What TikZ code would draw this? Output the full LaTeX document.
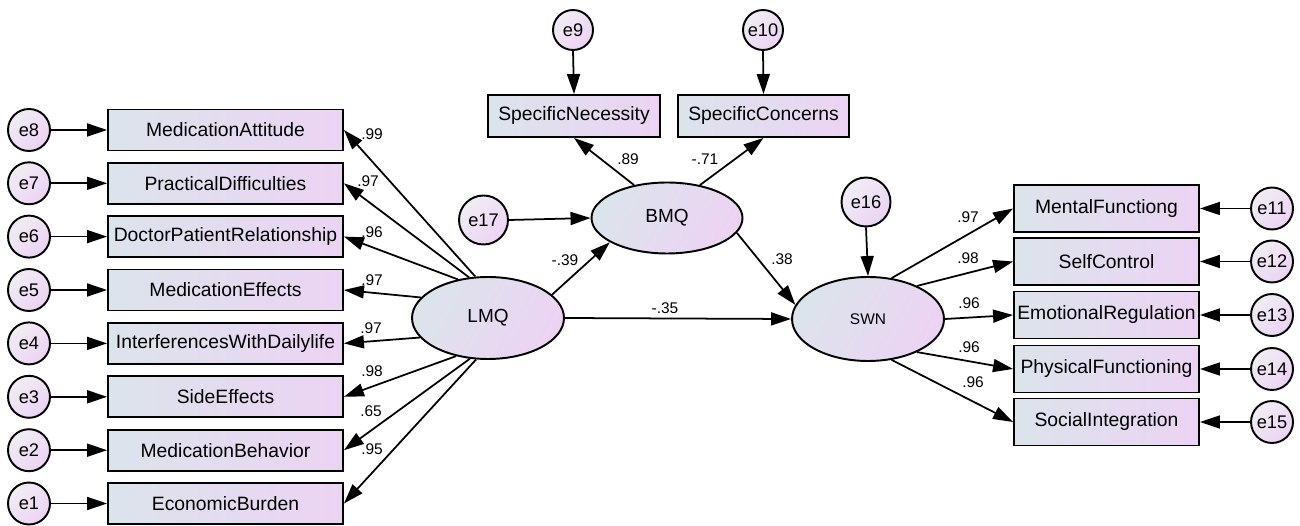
\documentclass[tikz,border=0pt]{standalone}
\usepackage{fontspec}
\setmainfont{Liberation Sans}
\usepackage{tikz}
\usetikzlibrary{arrows.meta,shapes.geometric}
\definecolor{boxgrey}{HTML}{DCE4EB}
\definecolor{boxlilac}{HTML}{ECD3F4}
\definecolor{errlight}{HTML}{F1EDF4}

\begin{document}
\begin{tikzpicture}[
      x=0.02cm,y=-0.02cm,
      box/.style={draw,line width=1.1pt,left color=boxgrey,right color=boxlilac,inner sep=1pt,font=\fontsize{11}{12}\selectfont},
      lbox/.style={box,minimum width=4.7cm,minimum height=0.82cm},
      rbox/.style={box,minimum width=3.7cm,minimum height=0.94cm},
      tbox/.style={box,minimum width=3.43cm,minimum height=0.84cm},
      lat/.style={ellipse,draw,line width=1.1pt,left color=boxgrey,right color=boxlilac,shading angle=60,inner sep=0pt,font=\fontsize{10.8}{12}\selectfont},
      err/.style={circle,draw,line width=1.1pt,left color=errlight,right color=boxlilac,shading angle=45,inner sep=0pt,minimum size=0.84cm,font=\fontsize{10.4}{12}\selectfont},
      arr/.style={-{Triangle[length=4mm,width=2.6mm]},line width=1pt},
      coef/.style={inner sep=0pt,font=\fontsize{8.8}{10}\selectfont}
    ]
    \useasboundingbox (0,0) rectangle (1300,526);
    % latent variables
    \node[lat,minimum width=3.04cm,minimum height=1.64cm] (lmq) at (488,318) {LMQ};
    \node[lat,minimum width=3.02cm,minimum height=1.42cm] (bmq) at (667,218) {BMQ};
    \node[lat,minimum width=3.04cm,minimum height=1.68cm,font=\fontsize{8.8}{10}\selectfont] (swn) at (868,319) {SWN};
    % left indicators
    \node[lbox] (attitude) at (225.5,130) {MedicationAttitude};
    \node[lbox] (practical) at (225.5,183.3) {PracticalDifficulties};
    \node[lbox] (doctor) at (225.5,236.6) {DoctorPatientRelationship};
    \node[lbox] (effects) at (225.5,290) {MedicationEffects};
    \node[lbox] (daily) at (225.5,343.4) {InterferencesWithDailylife};
    \node[lbox] (side) at (225.5,396.8) {SideEffects};
    \node[lbox] (behavior) at (225.5,450.2) {MedicationBehavior};
    \node[lbox] (economic) at (225.5,503.5) {EconomicBurden};
    \node[err] (e8) at (29,130) {e8};
    \node[err] (e7) at (29,183.3) {e7};
    \node[err] (e6) at (29,236.6) {e6};
    \node[err] (e5) at (29,290) {e5};
    \node[err] (e4) at (29,343.4) {e4};
    \node[err] (e3) at (29,396.8) {e3};
    \node[err] (e2) at (29,450.2) {e2};
    \node[err] (e1) at (29,503.5) {e1};
    % top indicators
    \node[tbox] (necessity) at (574,116) {SpecificNecessity};
    \node[tbox] (concerns) at (763.5,116) {SpecificConcerns};
    \node[err,minimum size=0.8cm] (e9) at (573,30) {e9};
    \node[err,minimum size=0.8cm] (e10) at (763,30) {e10};
    \node[err,minimum size=0.98cm] (e17) at (483.5,220) {e17};
    \node[err,minimum size=0.98cm] (e16) at (866,202) {e16};
    % right indicators
    \node[rbox] (mental) at (1106.5,208.5) {MentalFunctiong};
    \node[rbox] (selfctl) at (1106.5,261.5) {SelfControl};
    \node[rbox] (emotion) at (1106.5,315) {EmotionalRegulation};
    \node[rbox] (physical) at (1106.5,369) {PhysicalFunctioning};
    \node[rbox] (social) at (1106.5,422) {SocialIntegration};
    \node[err] (e11) at (1272,208.5) {e11};
    \node[err] (e12) at (1272,261.5) {e12};
    \node[err] (e13) at (1272,315) {e13};
    \node[err] (e14) at (1272,369) {e14};
    \node[err] (e15) at (1272,422) {e15};
    % error arrows
    \draw[arr] (e8.east)--(attitude.west);
    \draw[arr] (e7.east)--(practical.west);
    \draw[arr] (e6.east)--(doctor.west);
    \draw[arr] (e5.east)--(effects.west);
    \draw[arr] (e4.east)--(daily.west);
    \draw[arr] (e3.east)--(side.west);
    \draw[arr] (e2.east)--(behavior.west);
    \draw[arr] (e1.east)--(economic.west);
    \draw[arr] (e9.south)--(necessity.north);
    \draw[arr] (e10.south)--(concerns.north);
    \draw[arr] (e17.east)--(bmq.west);
    \draw[arr] (e16.south)--(swn.north);
    \draw[arr] (e11.west)--(mental.east);
    \draw[arr] (e12.west)--(selfctl.east);
    \draw[arr] (e13.west)--(emotion.east);
    \draw[arr] (e14.west)--(physical.east);
    \draw[arr] (e15.west)--(social.east);
    % loadings
    \draw[arr] (lmq.107)--(attitude.east);
    \draw[arr] (lmq.115)--(practical.east);
    \draw[arr] (lmq.128)--(doctor.east);
    \draw[arr] (lmq.163)--(effects.east);
    \draw[arr] (lmq.196)--(daily.east);
    \draw[arr] (lmq.230)--(side.east);
    \draw[arr] (lmq.246)--(behavior.east);
    \draw[arr] (lmq.254)--(economic.east);
    \draw[arr] (bmq.135)--(necessity.south);
    \draw[arr] (bmq.45)--(concerns.south);
    \draw[arr] (swn.60)--(mental.west);
    \draw[arr] (swn.34)--(selfctl.west);
    \draw[arr] (swn.east)--(emotion.west);
    \draw[arr] (swn.326)--(physical.west);
    \draw[arr] (swn.300)--(social.west);
    % structural paths
    \draw[arr] (lmq.20)--(bmq.203);
    \draw[arr] (bmq.348)--(swn.169);
    \draw[arr] (lmq.east)--(swn.west);
    % coefficients
    \node[coef] (w8) at (372,134) {.99};
    \node[coef] (w7) at (368,181) {.97};
    \node[coef] (w6) at (372,232) {.96};
    \node[coef] (w5) at (372,280) {.97};
    \node[coef] (w4) at (371,328) {.97};
    \node[coef] (w3) at (372,371) {.98};
    \node[coef] (w2) at (371,411) {.65};
    \node[coef] (w1) at (372,449) {.95};
    \node[coef] (w9) at (628,159) {.89};
    \node[coef] (w10) at (705,159) {-.71};
    \node[coef] (b1) at (565,260) {-.39};
    \node[coef] (b2) at (782,259) {.38};
    \node[coef] (b3) at (665,308) {-.35};
    \node[coef] (w11) at (968,217) {.97};
    \node[coef] (w12) at (968,258) {.98};
    \node[coef] (w13) at (969,303) {.96};
    \node[coef] (w14) at (969,347) {.96};
    \node[coef] (w15) at (973,382) {.96};
  \end{tikzpicture}
\end{document}
